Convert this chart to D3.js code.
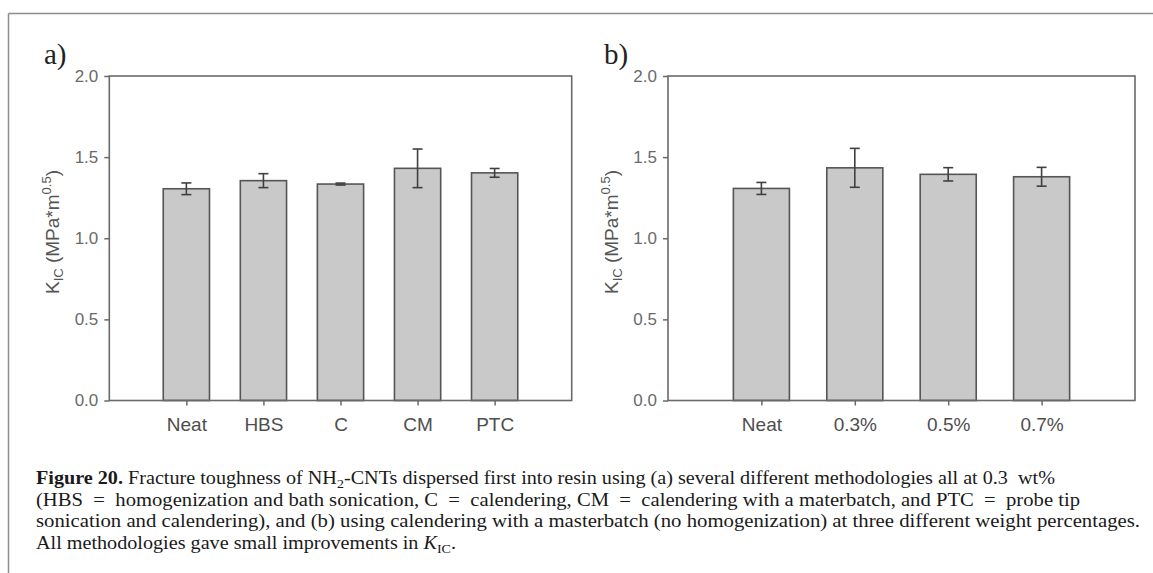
<!DOCTYPE html>
<html>
<head>
<meta charset="utf-8">
<script src="https://cdn.jsdelivr.net/npm/d3@7/dist/d3.min.js"></script>
<style>
  html, body { margin: 0; padding: 0; background: #fff; }
  svg { display: block; }
</style>
</head>
<body>
<svg id="chart" width="1153" height="573"></svg>
<script>
// ---- data ----
const catsA = ["Neat", "HBS", "C", "CM", "PTC"];
const valsA = [1.305, 1.355, 1.334, 1.431, 1.403];
const errA  = [0.036, 0.043, 0.006, 0.119, 0.027];

const catsB = ["Neat", "0.3%", "0.5%", "0.7%"];
const valsB = [1.307, 1.434, 1.394, 1.379];
const errB  = [0.037, 0.120, 0.041, 0.058];

const yTicks = [0.0, 0.5, 1.0, 1.5, 2.0];
const yLabelMain = "K";
const yLabelSub = "IC";
const yLabelUnit = " (MPa*m";
const yLabelSup = "0.5";

const captionLines = [
  [{t: "Figure 20.", b: true}, {t: " Fracture toughness of NH"}, {t: "2", sub: true}, {t: "-CNTs dispersed first into resin using (a) several different methodologies all at 0.3  wt%"}],
  [{t: "(HBS  =  homogenization and bath sonication, C  =  calendering, CM  =  calendering with a materbatch, and PTC  =  probe tip"}],
  [{t: "sonication and calendering), and (b) using calendering with a masterbatch (no homogenization) at three different weight percentages."}],
  [{t: "All methodologies gave small improvements in "}, {t: "K", i: true}, {t: "IC", sub: true}, {t: "."}]
];

// ---- drawing ----
const svg = d3.select("#chart");

// outer figure frame (top + left)
svg.append("line").attr("x1", 8.5).attr("x2", 1153).attr("y1", 13.5).attr("y2", 13.5)
  .attr("stroke", "#8c8c8c").attr("stroke-width", 1.5);
svg.append("line").attr("x1", 8.5).attr("x2", 8.5).attr("y1", 13.5).attr("y2", 573)
  .attr("stroke", "#8c8c8c").attr("stroke-width", 1.5);

function drawPanel(cfg) {
  const {cats, vals, errs, left, right, top, bottom, letter, letterX} = cfg;
  const n = cats.length;
  const x = d3.scaleLinear().domain([0, n + 1]).range([left, right]);
  const y = d3.scaleLinear().domain([0, 2]).range([bottom, top]);
  const step = x(1) - x(0);
  const bw = step * 0.6;
  const g = svg.append("g");

  // bars
  g.selectAll("rect.bar").data(vals).join("rect")
    .attr("class", "bar")
    .attr("x", (d, i) => x(i + 1) - bw / 2)
    .attr("width", bw)
    .attr("y", d => y(d))
    .attr("height", d => y(0) - y(d))
    .attr("fill", "#c9c9c9")
    .attr("stroke", "#555")
    .attr("stroke-width", 1.6);

  // error bars
  const eg = g.selectAll("g.err").data(vals).join("g").attr("class", "err");
  eg.append("line")
    .attr("x1", (d, i) => x(i + 1)).attr("x2", (d, i) => x(i + 1))
    .attr("y1", (d, i) => y(d + errs[i])).attr("y2", (d, i) => y(d - errs[i]));
  eg.append("line")
    .attr("x1", (d, i) => x(i + 1) - 5).attr("x2", (d, i) => x(i + 1) + 5)
    .attr("y1", (d, i) => y(d + errs[i])).attr("y2", (d, i) => y(d + errs[i]));
  eg.append("line")
    .attr("x1", (d, i) => x(i + 1) - 5).attr("x2", (d, i) => x(i + 1) + 5)
    .attr("y1", (d, i) => y(d - errs[i])).attr("y2", (d, i) => y(d - errs[i]));
  eg.selectAll("line").attr("stroke", "#404040").attr("stroke-width", 1.6);

  // frame
  g.append("rect")
    .attr("x", left).attr("y", top)
    .attr("width", right - left).attr("height", bottom - top)
    .attr("fill", "none").attr("stroke", "#6a6a6a").attr("stroke-width", 1.6);

  // y axis
  const ya = g.append("g").attr("transform", `translate(${left},0)`)
    .call(d3.axisLeft(y).tickValues(yTicks).tickFormat(d3.format(".1f"))
      .tickSize(5).tickSizeOuter(0).tickPadding(6));
  ya.select(".domain").remove();
  ya.selectAll("line").attr("stroke", "#6a6a6a").attr("stroke-width", 1.5);
  ya.selectAll("text").attr("font-family", "Liberation Sans, Arial, sans-serif")
    .attr("font-size", 17).attr("fill", "#6a6a6a");

  // x axis
  const xa = g.append("g").attr("transform", `translate(0,${bottom})`)
    .call(d3.axisBottom(x).tickValues(d3.range(1, n + 1)).tickFormat(i => cats[i - 1])
      .tickSize(5).tickSizeOuter(0).tickPadding(12));
  xa.select(".domain").remove();
  xa.selectAll("line").attr("stroke", "#6a6a6a").attr("stroke-width", 1.5);
  xa.selectAll("text").attr("font-family", "Liberation Sans, Arial, sans-serif")
    .attr("font-size", 19).attr("fill", "#4e4e4e");

  // y label
  const yl = g.append("text")
    .attr("transform", `translate(${left - 50},${232}) rotate(-90)`)
    .attr("text-anchor", "middle")
    .attr("font-family", "Liberation Sans, Arial, sans-serif")
    .attr("font-size", 19).attr("fill", "#555");
  yl.append("tspan").text(yLabelMain);
  yl.append("tspan").attr("font-size", 13).attr("dy", 4).text(yLabelSub);
  yl.append("tspan").attr("dy", -4).text(yLabelUnit);
  yl.append("tspan").attr("font-size", 13).attr("dy", -8).text(yLabelSup);
  yl.append("tspan").attr("dy", 8).text(")");

  // panel letter
  svg.append("text").attr("x", letterX).attr("y", 64)
    .attr("font-family", "Liberation Serif, Times New Roman, serif")
    .attr("font-size", 29).attr("fill", "#222").text(letter);
}

drawPanel({cats: catsA, vals: valsA, errs: errA, left: 109.3, right: 571.7, top: 76, bottom: 400.5, letter: "a)", letterX: 44});
drawPanel({cats: catsB, vals: valsB, errs: errB, left: 668, right: 1135, top: 76, bottom: 400.5, letter: "b)", letterX: 604});

// caption
const capBase = [484, 505.5, 527, 548.5];
const capWidths = [1019, 1044, 1104, 420];
captionLines.forEach((parts, li) => {
  const t = svg.append("text").attr("x", 36).attr("y", capBase[li])
    .attr("font-family", "Liberation Serif, Times New Roman, serif")
    .attr("font-size", 18).attr("fill", "#1a1a1a")
    .attr("xml:space", "preserve").style("white-space", "pre");
  let shifted = 0;
  parts.forEach(p => {
    const ts = t.append("tspan").text(p.t);
    if (p.b) ts.attr("font-weight", "bold");
    if (p.i) ts.attr("font-style", "italic");
    if (p.sub) { ts.attr("font-size", 12.5).attr("dy", 4 - shifted); shifted = 4; }
    else if (shifted) { ts.attr("dy", -shifted); shifted = 0; }
  });
  t.attr("textLength", capWidths[li]).attr("lengthAdjust", "spacingAndGlyphs");
});
</script>
</body>
</html>
